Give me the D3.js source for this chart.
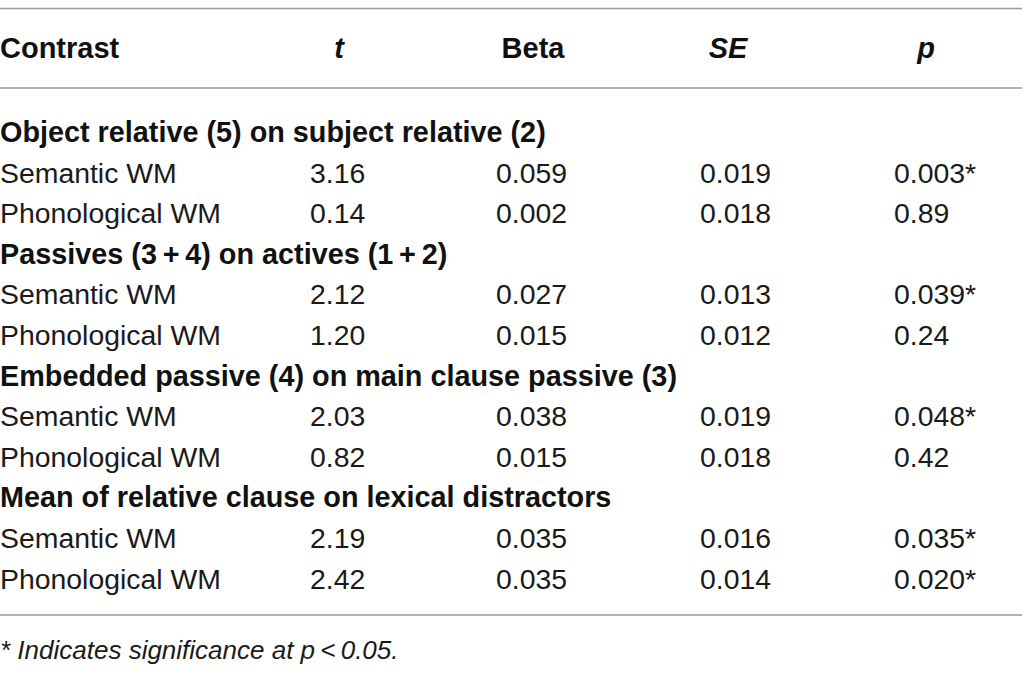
<!DOCTYPE html>
<html lang="en">
<head>
  <meta charset="UTF-8" />
  <title>Contrast table</title>
  <style>
    html, body { margin: 0; padding: 0; background: #fff; }
    svg text { font-family: "Liberation Sans", Arial, sans-serif; fill: #111; }
    .head { font-weight: bold; font-size: 29px; }
    .group { font-weight: bold; font-size: 28.8px; }
    .cell { font-size: 28.4px; fill: #1a1a1a; }
    .note { font-size: 26px; font-style: italic; fill: #1a1a1a; }
    .rule { stroke: #9a9a9a; stroke-width: 1.6; }
  </style>
</head>
<body>
  <div id="chart"></div>
  <script src="https://d3js.org/d3.v7.min.js"></script>
  <script>
    const width = 1022;
    const height = 677;

    // column headers (label, italic?)
    const columns = ['t', 'Beta', 'SE', 'p'];
    const italicCols = ['t', 'SE', 'p'];

    // contrast groups and the rows inside them
    const groups = [
      'Object relative (5) on subject relative (2)',
      'Passives (3\u2009+\u20094) on actives (1\u2009+\u20092)',
      'Embedded passive (4) on main clause passive (3)',
      'Mean of relative clause on lexical distractors'
    ];
    const predictors = ['Semantic WM', 'Phonological WM'];

    const tValues = [['3.16', '0.14'], ['2.12', '1.20'], ['2.03', '0.82'], ['2.19', '2.42']];
    const betaValues = [['0.059', '0.002'], ['0.027', '0.015'], ['0.038', '0.015'], ['0.035', '0.035']];
    const seValues = [['0.019', '0.018'], ['0.013', '0.012'], ['0.019', '0.018'], ['0.016', '0.014']];
    const pValues = [['0.003*', '0.89'], ['0.039*', '0.24'], ['0.048*', '0.42'], ['0.035*', '0.020*']];

    const footnote = '* Indicates significance at p\u2009<\u20090.05.';

    const valuesByCol = { t: tValues, Beta: betaValues, SE: seValues, p: pValues };

    // flat list of body lines: group heading then its predictor rows
    const lines = [];
    groups.forEach((g, gi) => {
      lines.push({ type: 'group', label: g });
      predictors.forEach((pr, pi) => {
        lines.push({ type: 'row', label: pr, gi, pi });
      });
    });

    const svg = d3.select('#chart')
      .append('svg')
      .attr('width', width)
      .attr('height', height);

    // vertical layout: row index -> baseline
    const y = d3.scaleLinear()
      .domain([0, lines.length - 1])
      .range([142, 588.6]);

    // column left edges for values, header centred over them
    const colX = d3.scaleOrdinal()
      .domain(columns)
      .range([310, 496, 700, 894]);
    const headOffset = { t: 29, Beta: 37, SE: 28, p: 32 };

    // rules
    const rules = [8.5, 88, 615];
    svg.selectAll('line.rule')
      .data(rules)
      .enter().append('line')
        .attr('class', 'rule')
        .attr('x1', 0)
        .attr('x2', width)
        .attr('y1', d => d)
        .attr('y2', d => d);

    // header
    svg.append('text')
      .attr('class', 'head')
      .attr('x', 0)
      .attr('y', 58)
      .text('Contrast');

    svg.selectAll('text.colhead')
      .data(columns)
      .enter().append('text')
        .attr('class', 'head colhead')
        .attr('x', d => colX(d) + headOffset[d])
        .attr('y', 58)
        .attr('text-anchor', 'middle')
        .style('font-style', d => italicCols.includes(d) ? 'italic' : 'normal')
        .text(d => d);

    // body lines
    const body = svg.selectAll('g.line')
      .data(lines)
      .enter().append('g')
        .attr('class', 'line')
        .attr('transform', (d, i) => `translate(0,${y(i)})`);

    body.append('text')
      .attr('class', d => d.type === 'group' ? 'group' : 'cell')
      .attr('x', 0)
      .text(d => d.label);

    body.filter(d => d.type === 'row')
      .selectAll('text.val')
      .data(d => columns.map(c => ({ c, v: valuesByCol[c][d.gi][d.pi] })))
      .enter().append('text')
        .attr('class', 'cell val')
        .attr('x', d => colX(d.c))
        .text(d => d.v);

    // footnote
    svg.append('text')
      .attr('class', 'note')
      .attr('x', 0)
      .attr('y', 659)
      .text(footnote);
  </script>
</body>
</html>
